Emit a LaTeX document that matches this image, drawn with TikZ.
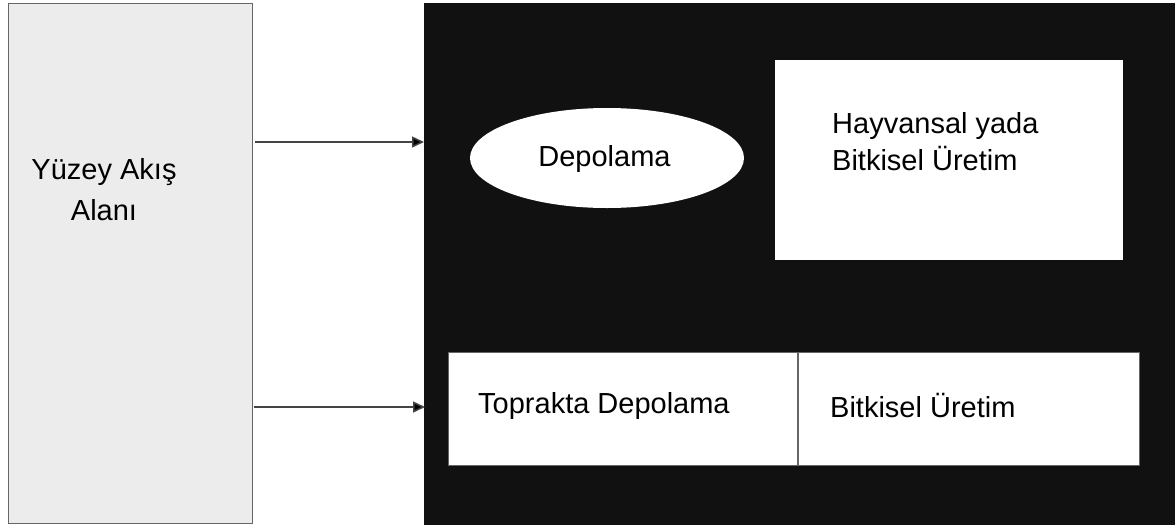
\documentclass[tikz,border=0pt]{standalone}
\usepackage{fontspec}
\setmainfont{Liberation Sans}
\usetikzlibrary{arrows.meta,shapes.geometric}
\definecolor{boxgray}{HTML}{ECECEC}
\definecolor{edgegray}{HTML}{666666}
\definecolor{nearblack}{HTML}{111111}
\definecolor{arrowgray}{HTML}{444444}
\begin{document}
\begin{tikzpicture}[x=1pt,y=-1pt,
  txt/.style={font=\fontsize{29}{37}\selectfont, inner sep=0pt, text=black},
  flow/.style={draw=arrowgray, line width=1.5pt, -{Triangle[length=12pt,width=11pt,fill=black]}},
  area/.style={rectangle, inner sep=0pt, outer sep=0pt, anchor=north west}
]
\useasboundingbox (0,0) rectangle (1175,525);
\fill[white] (0,0) rectangle (1175,525);
% left gray area
\node[area, fill=boxgray, draw=edgegray, line width=1pt, minimum width=244pt, minimum height=520pt] (left) at (8,3) {};
\node[txt, anchor=base] (yuzey) at (104,179) {Yüzey Akış};
\node[txt, anchor=base] (alani) at (104,220) {Alanı};
% black area
\node[area, fill=nearblack, minimum width=751pt, minimum height=522pt] (black) at (424,3) {};
% ellipse
\node[ellipse, fill=white, minimum width=274pt, minimum height=100pt, inner sep=0pt] (dep) at (607,158) {};
\node[txt, anchor=base] (deptxt) at (604.5,166) {Depolama};
% upper right white box
\node[area, fill=white, minimum width=348pt, minimum height=200pt] (upper) at (775,60) {};
\node[txt, anchor=base west] (hay) at (832,133) {Hayvansal yada};
\node[txt, anchor=base west] (bit1) at (832,170) {Bitkisel Üretim};
% bottom row
\node[area, fill=white, draw=edgegray, line width=0.8pt, minimum width=350pt, minimum height=113pt] (soil) at (448,352) {};
\node[area, fill=white, draw=edgegray, line width=0.8pt, minimum width=341pt, minimum height=113pt] (crop) at (798,352) {};
\draw[draw=edgegray, line width=1.3pt] (soil.north east) -- (soil.south east);
\node[txt, anchor=base west] (top) at (478,413) {Toprakta Depolama};
\node[txt, anchor=base west] (bit2) at (830,417) {Bitkisel Üretim};
% arrows
\draw[flow] ([xshift=3pt]left.east |- 0,142) -- (black.west |- 0,142);
\draw[flow] ([xshift=2pt]left.east |- 0,407) -- ([xshift=1pt]black.west |- 0,407);
\end{tikzpicture}
\end{document}
